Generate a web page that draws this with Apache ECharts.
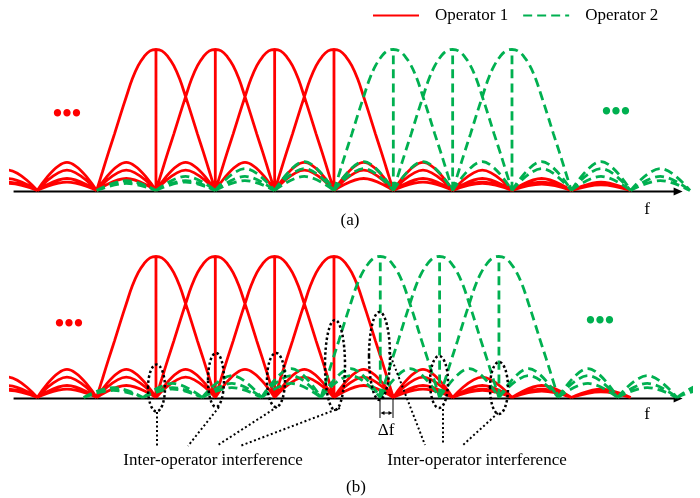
<!DOCTYPE html>
<html><head><meta charset="utf-8">
<script src="https://cdn.jsdelivr.net/npm/echarts@6/dist/echarts.min.js"></script>
<style>html,body{margin:0;padding:0;background:#fff}#c{width:700px;height:498px}</style>
</head><body><div id="c"></div>
<script>
const RED = '#FF0000', GREEN = '#00B050';
// subcarrier centres (in subcarrier-spacing units)
const redCentres = [2, 3, 4, 5];
const greenCentresA = [6, 7, 8];
const greenCentresB = [5.78, 6.78, 7.78];
// main lobe key points (offset from centre, normalised level)
const mainLobeOffsets = [-1, -0.9, -0.8, -0.7, -0.6, -0.5, -0.4, -0.3, -0.2, -0.1, 0,
                          0.1, 0.2, 0.3, 0.4, 0.5, 0.6, 0.7, 0.8, 0.9, 1];
const mainLobeLevels = [0, 0.135, 0.27, 0.40, 0.535, 0.665, 0.79, 0.885, 0.95, 0.99, 1,
                        0.99, 0.95, 0.885, 0.79, 0.665, 0.535, 0.40, 0.27, 0.135, 0];
// sidelobe peak levels, 1st, 2nd, 3rd ... sidelobe
const redSidelobePeaks = [0.20, 0.145, 0.085, 0.06, 0.05, 0.045, 0.04, 0.038];
const greenSidelobePeaks = [0.205, 0.155, 0.10, 0.07, 0.06, 0.05, 0.045, 0.04];
// outermost zeros reached by each operator's sidelobes
const redSpan = [-1, 10];
const greenSpanA = [1, 11];
const greenSpanB = [0.78, 11.78];
// frequency axis extent
const axisSpan = [-0.4, 10.8];
const axisLevel = -0.007;

function buildSubcarriers(centres, span, peaks) {
  const pts = [];
  const gap = () => pts.push(['-', '-']);
  centres.forEach(c => {
    mainLobeOffsets.forEach((o, i) => pts.push([c + o, mainLobeLevels[i]]));
    gap();
    pts.push([c, 0], [c, 1]); gap();
    for (let n = 1; c - n - 1 >= span[0] - 1e-9; n++) {
      pts.push([c - n - 1, 0], [c - n - 0.5, peaks[n - 1]], [c - n, 0]); gap();
    }
    for (let n = 1; c + n + 1 <= span[1] + 1e-9; n++) {
      pts.push([c + n, 0], [c + n + 0.5, peaks[n - 1]], [c + n + 1, 0]); gap();
    }
  });
  return pts;
}

const chart = echarts.init(document.getElementById('c'), null, {renderer: 'canvas'});
const F = '17px "Liberation Serif", "Times New Roman", serif';
const gridCommon = {left: 10.6, width: 679.4, height: 155.1, outerBoundsMode: 'none', containLabel: false};
const xCommon = {type: 'value', min: -0.45, max: 11.0, show: false};
const yCommon = {type: 'value', min: -0.05, max: 1.05, show: false};

function subSeries(name, gi, data, color, dashed) {
  return {
    name, type: 'line', xAxisIndex: gi, yAxisIndex: gi, data,
    smooth: 0.4, symbol: 'none', showSymbol: false, silent: true,
    lineStyle: {color, width: 2.8, type: dashed ? [9, 5] : 'solid'},
    itemStyle: {color}, z: dashed ? 4 : 3, animation: false
  };
}
function axisSeries(gi) {
  return {
    name: 'axis' + gi, type: 'line', xAxisIndex: gi, yAxisIndex: gi,
    data: [[axisSpan[0], axisLevel],
      {value: [axisSpan[1], axisLevel], symbol: 'triangle', symbolSize: [8, 9], symbolRotate: -90}],
    symbol: 'none', showSymbol: true, silent: true, clip: false,
    lineStyle: {color: '#000', width: 2}, itemStyle: {color: '#000'}, z: 2, animation: false
  };
}

function txt(text, x, y, color, font) {
  return {type: 'text', silent: true, z: 10, style: {
    text, x, y, font: font || F, fill: color || '#000',
    textAlign: 'center', align: 'center', textVerticalAlign: 'middle', verticalAlign: 'middle'
  }};
}
function dots(x, y, color) {
  return txt('•••', x, y, color, 'bold 27px "Liberation Serif", serif');
}
function ell(cx, cy, rx, ry) {
  return {type: 'ellipse', silent: true, z: 9, shape: {cx, cy, rx, ry},
    style: {fill: 'none', stroke: '#000', lineWidth: 2.5, lineDash: [2.5, 2.5]}};
}
function dl(x1, y1, x2, y2) {
  return {type: 'line', silent: true, z: 9, shape: {x1, y1, x2, y2},
    style: {stroke: '#000', lineWidth: 2, lineDash: [2, 2.5]}};
}
function sl(x1, y1, x2, y2) {
  return {type: 'line', silent: true, z: 9, shape: {x1, y1, x2, y2},
    style: {stroke: '#000', lineWidth: 1}};
}
function tri(points) {
  return {type: 'polygon', silent: true, z: 9, shape: {points}, style: {fill: '#000'}};
}

const option = {
  animation: false,
  backgroundColor: '#fff',
  legend: {
    data: ['Operator 1', 'Operator 2'], left: 367, top: 2, itemWidth: 46, itemHeight: 14, itemGap: 14,
    itemStyle: {opacity: 0},
    textStyle: {fontFamily: '"Liberation Serif", serif', fontSize: 17, color: 'inherit', padding: [0, 0, 0, 11]},
    selectedMode: false
  },
  grid: [
    Object.assign({top: 42.45}, gridCommon),
    Object.assign({top: 249.45}, gridCommon)
  ],
  xAxis: [Object.assign({gridIndex: 0}, xCommon), Object.assign({gridIndex: 1}, xCommon)],
  yAxis: [Object.assign({gridIndex: 0}, yCommon), Object.assign({gridIndex: 1}, yCommon)],
  series: [
    axisSeries(0), axisSeries(1),
    subSeries('Operator 1', 0, buildSubcarriers(redCentres, redSpan, redSidelobePeaks), RED, false),
    subSeries('Operator 2', 0, buildSubcarriers(greenCentresA, greenSpanA, greenSidelobePeaks), GREEN, true),
    subSeries('Operator 1', 1, buildSubcarriers(redCentres, redSpan, redSidelobePeaks), RED, false),
    subSeries('Operator 2', 1, buildSubcarriers(greenCentresB, greenSpanB, greenSidelobePeaks), GREEN, true)
  ],
  graphic: [
    txt('(a)', 350, 221), txt('(b)', 356, 488),
    txt('f', 647, 210), txt('f', 647, 415),
    dots(67, 115, RED), dots(69, 325, RED), dots(616, 113, GREEN), dots(600, 322, GREEN),
    ell(156.5, 388, 8.5, 23.5), ell(216, 380, 8, 27), ell(276, 380, 9, 27), ell(335, 365, 10, 45),
    ell(379.5, 356, 10.5, 44), ell(439, 382, 9, 26), ell(499, 388, 9, 26),
    dl(157, 412, 157, 446), dl(219, 407, 188, 446), dl(277, 407, 218, 445), dl(340, 408, 240, 446),
    dl(389, 352, 425, 445), dl(443, 409, 443, 445), dl(498, 413, 463, 445),
    txt('Inter-operator interference', 213, 461), txt('Inter-operator interference', 477, 461),
    sl(380, 399, 380, 418), sl(393, 399, 393, 418), sl(383, 413, 390, 413),
    tri([[380.5, 413], [384.5, 411], [384.5, 415]]), tri([[392.5, 413], [388.5, 411], [388.5, 415]]),
    txt('Δf', 386, 431)
  ]
};
chart.setOption(option);
</script></body></html>
